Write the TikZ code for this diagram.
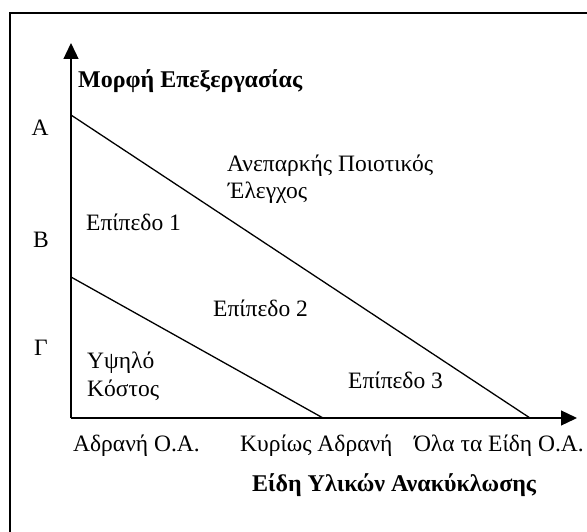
\documentclass[tikz,border=0pt]{standalone}
\usepackage{fontspec}
\setmainfont{Liberation Serif}
\usetikzlibrary{arrows.meta}
\begin{document}
\begin{tikzpicture}[x=1pt,y=-1pt,
  lbl/.style={font=\fontsize{23.5}{27}\selectfont, inner sep=0pt},
  ttl/.style={font=\bfseries\fontsize{24}{28}\selectfont, inner sep=0pt},
  ln/.style={line width=1.3pt},
  axisline/.style={line width=1.3pt, -{Triangle[length=16pt,width=15pt]}}]
\useasboundingbox (0,0) rectangle (587,532);
% frame
\coordinate (fbl) at (10,532);
\coordinate (ftl) at (10,13);
\coordinate (ftr) at (587,13);
\draw[line width=1.4pt] (fbl) -- (ftl) -- (ftr);
% axes
\coordinate (O) at (71,418);
\coordinate (ytip) at (71,43);
\coordinate (xtip) at (577,418);
\draw[axisline] (O) -- (ytip);
\draw[axisline] (O) -- (xtip);
% boundary lines
\coordinate (a1) at (71,115);
\coordinate (a2) at (530,418);
\coordinate (b1) at (71,277);
\coordinate (b2) at (323,418);
\draw[ln] (a1) -- (a2);
\draw[ln] (b1) -- (b2);
% labels
\node[ttl, anchor=west] (ylab) at (78,81) {Μορφή Επεξεργασίας};
\node[lbl] (A) at (40,128) {Α};
\node[lbl] (B) at (41,240) {Β};
\node[lbl] (G) at (41,348) {Γ};
\node[lbl, anchor=west] (q1) at (227,166) {Ανεπαρκής Ποιοτικός};
\node[lbl, anchor=west] (q2) at (228,193) {Έλεγχος};
\node[lbl, anchor=west] (e1) at (86,222) {Επίπεδο 1};
\node[lbl, anchor=west] (e2) at (213,308) {Επίπεδο 2};
\node[lbl, anchor=west] (e3) at (348,380) {Επίπεδο 3};
\node[lbl, anchor=west] (c1) at (87,363) {Υψηλό};
\node[lbl, anchor=west] (c2) at (87,390) {Κόστος};
\node[lbl, anchor=west] (x1) at (73,446) {Αδρανή Ο.Α.};
\node[lbl, anchor=west] (x2) at (240,446) {Κυρίως Αδρανή};
\node[lbl, anchor=east] (x3) at (584,446) {Όλα τα Είδη Ο.Α.};
\node[ttl, anchor=west] (xlab) at (252,485) {Είδη Υλικών Ανακύκλωσης};
\end{tikzpicture}
\end{document}
